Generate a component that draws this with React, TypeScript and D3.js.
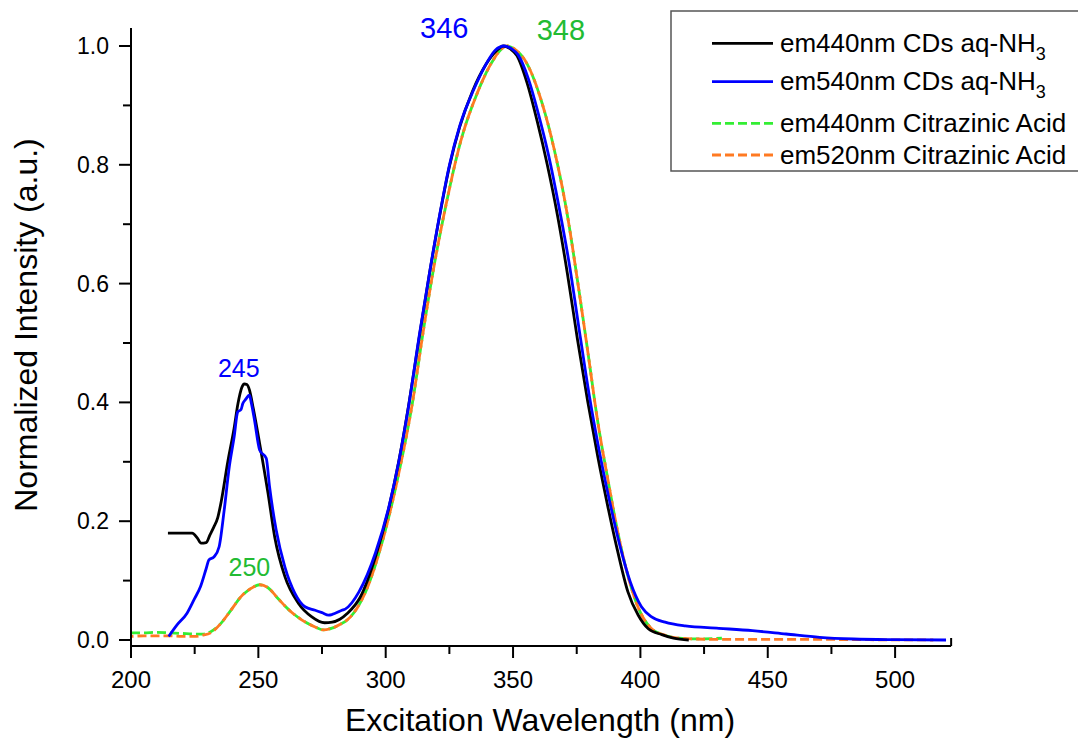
import React from "react";
import * as d3 from "d3";

// ---- Data ----
const blackX = [214.5, 224, 226, 227.5, 229.5, 231, 232.5, 234, 235.5, 238, 240.5, 242, 243.5, 244.5, 245.5, 246.5, 248, 250.5, 253.8, 256.4, 260.4, 265.7, 271, 276, 279, 282, 285, 290, 296, 301, 305, 309, 313, 317, 321, 325, 329, 334, 339.5, 343, 346.3, 349, 351.5, 355.5, 359.5, 363.4, 367.4, 371.3, 375.3, 379.3, 383.2, 387.2, 391.2, 395.1, 399.1, 403.1, 408.4, 413, 419];
const blackY = [0.18, 0.18, 0.172, 0.163, 0.164, 0.177, 0.19, 0.205, 0.235, 0.3, 0.357, 0.398, 0.425, 0.431, 0.43, 0.421, 0.39, 0.331, 0.247, 0.174, 0.107, 0.062, 0.039, 0.029, 0.03, 0.035, 0.045, 0.072, 0.14, 0.218, 0.298, 0.395, 0.505, 0.612, 0.71, 0.797, 0.863, 0.923, 0.97, 0.99, 1.0, 0.995, 0.984, 0.938, 0.873, 0.801, 0.716, 0.618, 0.506, 0.402, 0.31, 0.225, 0.147, 0.081, 0.042, 0.019, 0.009, 0.003, 0.0];

const blueX = [214.8, 218, 222, 225, 227.3, 229.5, 230.6, 232.6, 234.6, 236.6, 238.6, 240.5, 241.9, 243.2, 243.9, 245, 246.5, 247.2, 248.5, 250.5, 253.1, 254.4, 257, 260.4, 264.3, 268.3, 272.3, 275, 277.6, 279, 282.8, 284.1, 289.5, 296, 301.3, 305.3, 309.3, 313.2, 317.2, 321.2, 325.1, 329.1, 334.4, 339.6, 343, 346.5, 349.5, 352, 356, 360, 364, 368, 372, 376.4, 380, 384, 388, 392, 396, 400.4, 404.4, 409.7, 417.6, 430.8, 444, 457.2, 470.4, 483.7, 500, 520];
const blueY = [0.006, 0.025, 0.045, 0.07, 0.09, 0.12, 0.135, 0.14, 0.157, 0.219, 0.292, 0.342, 0.384, 0.388, 0.398, 0.405, 0.412, 0.4, 0.37, 0.32, 0.306, 0.258, 0.185, 0.123, 0.079, 0.056, 0.05, 0.046, 0.042, 0.043, 0.05, 0.052, 0.081, 0.147, 0.225, 0.304, 0.402, 0.513, 0.618, 0.716, 0.801, 0.866, 0.925, 0.971, 0.993, 1.0, 0.995, 0.985, 0.945, 0.885, 0.815, 0.73, 0.635, 0.51, 0.41, 0.315, 0.232, 0.158, 0.098, 0.056, 0.039, 0.03, 0.0236, 0.0197, 0.0157, 0.0101, 0.0045, 0.0017, 0.0005, 0.0];

const greenX = [200, 205, 210, 215, 220, 225, 228, 231.3, 235.3, 239.2, 243.2, 247.2, 250.5, 253.8, 257.7, 261.7, 267, 272.3, 275.6, 278.9, 282, 285.5, 292.1, 298.7, 305.3, 310.6, 314.5, 318.5, 323.8, 329.1, 335.7, 342.3, 345, 347.6, 350.5, 355.5, 360.8, 366.1, 371.3, 375.3, 379.3, 383.2, 387.2, 391.2, 395.1, 399.1, 404.4, 409, 415, 420, 425, 432];
const greenY = [0.012, 0.012, 0.013, 0.012, 0.011, 0.01, 0.01, 0.014, 0.028, 0.05, 0.073, 0.087, 0.093, 0.088, 0.07, 0.052, 0.034, 0.022, 0.017, 0.02, 0.026, 0.036, 0.081, 0.166, 0.284, 0.402, 0.513, 0.618, 0.735, 0.834, 0.918, 0.977, 0.993, 1.0, 0.995, 0.97, 0.912, 0.827, 0.716, 0.605, 0.487, 0.369, 0.271, 0.18, 0.108, 0.055, 0.019, 0.009, 0.003, 0.002, 0.002, 0.003];

const orangeX = [200, 205, 210, 215, 220, 225, 228, 231.3, 235.3, 239.2, 243.2, 247.2, 250.5, 253.8, 257.7, 261.7, 267, 272.3, 275.6, 278.9, 282, 285.5, 292.1, 298.7, 305.3, 310.6, 314.5, 318.5, 323.8, 329.1, 335.7, 342.3, 345, 347.6, 350.5, 355.5, 360.8, 366.1, 371.3, 375.3, 379.3, 383.2, 387.2, 391.2, 395.1, 399.1, 404.4, 409, 415, 420, 430, 450, 470, 490, 515];
const orangeY = [0.006, 0.007, 0.007, 0.007, 0.006, 0.006, 0.008, 0.012, 0.028, 0.05, 0.073, 0.087, 0.093, 0.088, 0.07, 0.052, 0.034, 0.022, 0.017, 0.02, 0.026, 0.036, 0.081, 0.166, 0.284, 0.402, 0.513, 0.618, 0.735, 0.834, 0.918, 0.977, 0.993, 1.0, 0.995, 0.97, 0.912, 0.827, 0.716, 0.605, 0.487, 0.369, 0.271, 0.18, 0.108, 0.055, 0.019, 0.009, 0.003, 0.002, 0.001, 0.001, 0.001, 0.0005, 0.0];

const xTicks = [200, 250, 300, 350, 400, 450, 500];
const xMinor = [225, 275, 325, 375, 425, 475];
const yTicks = [0.0, 0.2, 0.4, 0.6, 0.8, 1.0];
const yMinor = [0.1, 0.3, 0.5, 0.7, 0.9];

const legendItems = [
  { main: "em440nm CDs aq-NH", sub: "3", color: "#000000", dash: "" },
  { main: "em540nm CDs aq-NH", sub: "3", color: "#0000ff", dash: "" },
  { main: "em440nm Citrazinic Acid", sub: "", color: "#33ee33", dash: "9,4" },
  { main: "em520nm Citrazinic Acid", sub: "", color: "#ff7a22", dash: "9,4" },
];

const peakLabels = [
  { text: "346", x: 323, y: 1.0, color: "#0000ff", size: 29, dy: -7.7 },
  { text: "348", x: 368.8, y: 1.0, color: "#22bb33", size: 29, dy: -6 },
  { text: "245", x: 242.3, y: 0.43, color: "#0000ff", size: 25, dy: -8 },
  { text: "250", x: 246.5, y: 0.093, color: "#22bb33", size: 25, dy: -9 },
];

const FONT = "'Liberation Sans', Arial, Helvetica, sans-serif";

export default function App() {
  const W = 1078, H = 742;
  const left = 131, top = 28, bottom = 646;
  const pxPerNm = 2.547;
  const xMax = 522;
  const right = left + (xMax - 200) * pxPerNm;
  const x = d3.scaleLinear().domain([200, xMax]).range([left, right]);
  const y = d3.scaleLinear().domain([0, 1]).range([640, 46]);

  const mk = (xs: number[], ys: number[]) =>
    d3.line<number>().x((_, i) => x(xs[i])).y((_, i) => y(ys[i])).curve(d3.curveMonotoneX)(xs.map((_, i) => i)) || "";

  const series = [
    { d: mk(greenX, greenY), color: "#33ee33", dash: "9,4", off: 0 },
    { d: mk(orangeX, orangeY), color: "#ff7a22", dash: "9,4", off: 6.5 },
    { d: mk(blackX, blackY), color: "#000000", dash: "", off: 0 },
    { d: mk(blueX, blueY), color: "#0000ff", dash: "", off: 0 },
  ];

  const legendRows = [43.3, 81.7, 123.3, 155];

  return (
    <svg width={W} height={H} style={{ position: "absolute", left: 0, top: 0, background: "#fff" }} fontFamily={FONT}>
      <rect x={0} y={0} width={W} height={H} fill="#fff" />
      {/* curves */}
      <g fill="none" strokeWidth={2.8} strokeLinejoin="round">
        {series.map((s, i) => (
          <path key={i} d={s.d} stroke={s.color} strokeDasharray={s.dash || undefined} strokeDashoffset={s.off} />
        ))}
      </g>
      {/* axes */}
      <g stroke="#000" strokeWidth={2}>
        <line x1={left} x2={left} y1={top} y2={bottom + 1} />
        <line x1={left - 1} x2={right} y1={bottom} y2={bottom} />
        {xTicks.map((t) => (
          <line key={"xt" + t} x1={x(t)} x2={x(t)} y1={bottom} y2={bottom + 12} />
        ))}
        {xMinor.map((t) => (
          <line key={"xm" + t} x1={x(t)} x2={x(t)} y1={bottom} y2={bottom + 8} />
        ))}
        <line x1={right} x2={right} y1={bottom} y2={bottom - 8} />
        {yTicks.map((t) => (
          <line key={"yt" + t} x1={left - 12} x2={left} y1={y(t)} y2={y(t)} />
        ))}
        {yMinor.map((t) => (
          <line key={"ym" + t} x1={left - 8} x2={left} y1={y(t)} y2={y(t)} />
        ))}
      </g>
      <g fill="#000">
        {xTicks.map((t) => (
          <text key={"xl" + t} x={x(t)} y={688} textAnchor="middle" fontSize={24}>{t}</text>
        ))}
        {yTicks.map((t) => (
          <text key={"yl" + t} x={109} y={y(t) + 8} textAnchor="end" fontSize={23}>{t.toFixed(1)}</text>
        ))}
      </g>
      <text x={540} y={731} textAnchor="middle" fontSize={32}>Excitation Wavelength (nm)</text>
      <text transform={`translate(37,325) rotate(-90)`} textAnchor="middle" fontSize={32}>Normalized Intensity (a.u.)</text>
      {/* peak labels */}
      {peakLabels.map((p) => (
        <text key={p.text} x={x(p.x)} y={y(p.y) + p.dy} textAnchor="middle" fontSize={p.size} fill={p.color}>{p.text}</text>
      ))}
      {/* legend */}
      <rect x={671} y={11} width={420} height={160} fill="#fff" stroke="#555" strokeWidth={1.5} />
      {legendItems.map((it, i) => (
        <g key={i}>
          <line x1={712} x2={773} y1={legendRows[i]} y2={legendRows[i]} stroke={it.color} strokeWidth={2.8} strokeDasharray={it.dash || undefined} />
          <text x={780} y={legendRows[i] + 8.5} fontSize={26} fill="#000">
            {it.main}
            {it.sub ? <tspan fontSize={18} dy={8}>{it.sub}</tspan> : null}
          </text>
        </g>
      ))}
    </svg>
  );
}
